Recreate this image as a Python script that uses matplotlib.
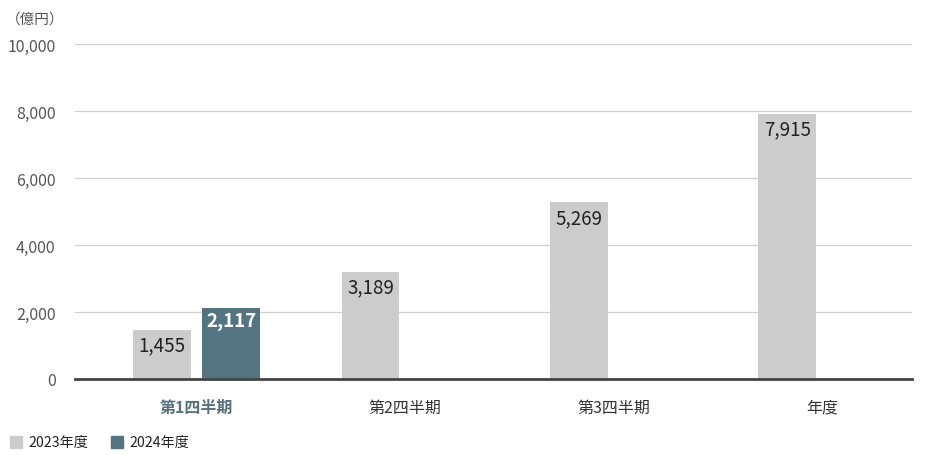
import numpy as np
import matplotlib
matplotlib.use("Agg")
import matplotlib.pyplot as plt
from matplotlib.patches import Rectangle

plt.rcParams['font.family'] = ['Noto Sans CJK JP', 'DejaVu Sans']

# data
categories = ['第1四半期', '第2四半期', '第3四半期', '年度']
fy2023 = [1455, 3189, 5269, 7915]
fy2024 = [2117, None, None, None]
series_names = ['2023年度', '2024年度']
yticks = [0, 2000, 4000, 6000, 8000, 10000]

c23 = '#cccccc'
c24 = '#557482'

fig = plt.figure(figsize=(9.36, 4.56), dpi=100)
ax = fig.add_axes([75/936, 1-380/456, (912-75)/936, (380-45)/456])

x = np.arange(len(categories))
w = 0.278
off = (w + 0.053) / 2

ax.bar(x - off, fy2023, width=w, color=c23, zorder=2)
x24 = [xi + off for xi, v in zip(x, fy2024) if v is not None]
v24 = [v for v in fy2024 if v is not None]
ax.bar(x24, v24, width=w, color=c24, zorder=2)

# value labels
for xi, v in zip(x, fy2023):
    ax.text(xi - off, v - 130, f'{v:,}', ha='center', va='top',
            fontsize=13.5, color='#222222', zorder=3)
for xi, v in zip(x24, v24):
    ax.text(xi, v - 100, f'{v:,}', ha='center', va='top',
            fontsize=13.5, color='white', fontweight='bold', zorder=3)

ax.set_xlim(-0.583, 3.432)
ax.set_ylim(0, 10000)
ax.set_yticks(yticks)
ax.set_yticklabels([f'{t:,}' for t in yticks], fontsize=11.5, color='#555555')
ax.yaxis.grid(True, color='#d0d0d0', linewidth=0.9, zorder=0)
ax.tick_params(axis='y', length=0, pad=14)
ax.tick_params(axis='x', length=0, pad=14)
ax.set_xticks(x)
ax.set_xticklabels(categories, fontsize=11.5, color='#333333')
lbls = ax.get_xticklabels()
lbls[0].set_color('#56727f')
lbls[0].set_fontweight('bold')

for s in ['top', 'right', 'left']:
    ax.spines[s].set_visible(False)
ax.spines['bottom'].set_color('#444444')
ax.spines['bottom'].set_linewidth(2)
ax.spines['bottom'].set_zorder(4)

fig.text(6/936, 1-20/456, '（億円）', fontsize=10.5, color='#555555', va='center', ha='left')

# legend
for i, (name, col) in enumerate(zip(series_names, [c23, c24])):
    lx = 10 + i * 101
    fig.patches.append(Rectangle((lx/936, 1-449/456), 12/936, 12/456,
                                 transform=fig.transFigure, color=col))
    fig.text((lx + 18)/936, 1-443/456, name, fontsize=10.2, color='#222222',
             va='center', ha='left')

fig.savefig('out.png', dpi=100)
